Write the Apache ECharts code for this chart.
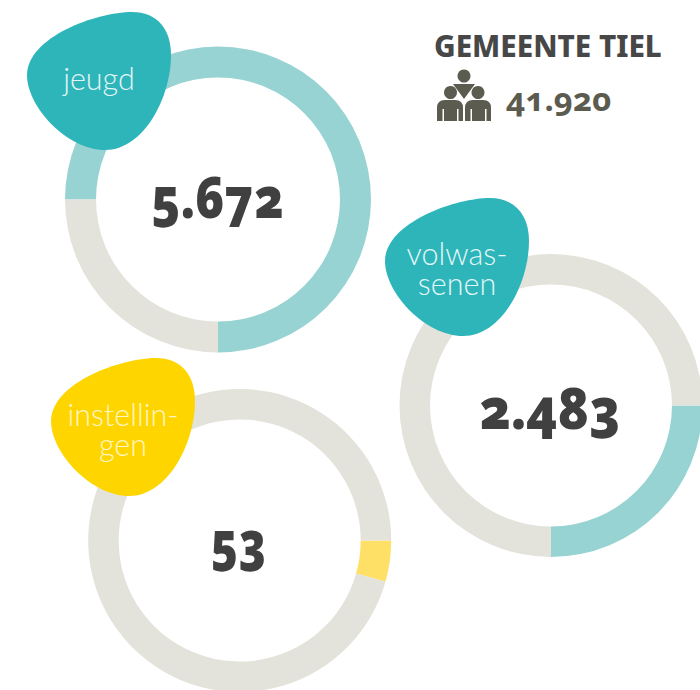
<!DOCTYPE html>
<html>
<head>
<meta charset="utf-8">
<title>Gemeente Tiel</title>
<style>
  html, body { margin: 0; background: #fff; }
  #chart { width: 700px; height: 690px; }
  /* the inline font shorthand resets numerals, hence !important */
  #chart text { font-variant-numeric: oldstyle-nums !important; font-feature-settings: "onum" !important; }
</style>
<script src="https://cdn.jsdelivr.net/npm/echarts@6/dist/echarts.min.js"></script>
</head>
<body>
<div id="chart"></div>
<script>
const heading = 'GEMEENTE TIEL';
const population = '41.920';
const categories = ['jeugd', 'volwassenen', 'instellingen'];
const blobLabels = ['jeugd', 'volwas-\nsenen', 'instellin-\ngen'];
const counts = ['5.672', '2.483', '53'];
// ring shares in percent
const shares = [75, 25, 4.4];
const restShares = [25, 75, 95.6];

const RING_COLORS = ['#97d3d2', '#97d3d2', '#ffe066'];
const BLOB_COLORS = ['#2db5ba', '#2db5ba', '#ffd500'];
const REST_COLOR = '#e3e3db';
const CENTERS = [[218, 199.5], [551, 405.5], [239.7, 540.5]];
const RADII = [[122, 153], [121, 151.5], [121, 151.5]];
const START_ANGLES = [270, 0, 0];
const CLOCKWISE = [false, true, true];
const BLOB_POS = [[27, 12], [385, 198], [51, 358]];
const COUNT_POS = [[217.5, 196], [550, 407.5], [238.5, 540]];
const COUNT_SCALE_X = [0.94, 1, 0.88];
const BLOB_TEXT_POS = [[99, 78], [457, 268], [123, 429]];
const ICON = '#5b5b4f';

// graphic component has no 'path' type, so the shapes get registered
echarts.graphic.registerShape('blob', echarts.graphic.extendPath(
  'M105 0C130 0 144 17 144 43C144 85 117 138 78 138C40 138 0 95 0 63C0 25 70 0 105 0Z'));
echarts.graphic.registerShape('torso', echarts.graphic.extendPath('M453 84H475L464 99Z'));
echarts.graphic.registerShape('person', echarts.graphic.extendPath(
  'M0 21V8Q0 0 8 0H18Q26 0 26 8V21H21.5V9H20V21H7V9H5.5V21Z'));

const series = categories.map((name, i) => ({
  type: 'pie',
  name: name,
  center: CENTERS[i],
  radius: RADII[i],
  startAngle: START_ANGLES[i],
  clockwise: CLOCKWISE[i],
  silent: true,
  label: { show: false },
  labelLine: { show: false },
  animation: false,
  data: [
    { value: shares[i], name: name, itemStyle: { color: RING_COLORS[i] } },
    { value: restShares[i], name: 'overig', itemStyle: { color: REST_COLOR } }
  ]
}));

const blobs = categories.map((name, i) => ({
  type: 'blob',
  x: BLOB_POS[i][0],
  y: BLOB_POS[i][1],
  z: 10,
  style: { fill: BLOB_COLORS[i] }
}));

const blobTexts = blobLabels.map((text, i) => ({
  type: 'text',
  x: BLOB_TEXT_POS[i][0],
  y: BLOB_TEXT_POS[i][1],
  z: 11,
  style: {
    text: text,
    fill: i === 2 ? '#fff6c4' : '#e4f6f6',
    font: '300 30.5px Lato',
    lineHeight: 30,
    align: 'center',
    verticalAlign: 'middle'
  }
}));

const countTexts = counts.map((text, i) => ({
  type: 'text',
  x: COUNT_POS[i][0],
  y: COUNT_POS[i][1],
  scaleX: COUNT_SCALE_X[i],
  scaleY: 1.08,
  z: 11,
  style: {
    text: text,
    fill: '#404040',
    font: '900 52px "Noto Sans"',
    align: 'center',
    verticalAlign: 'middle'
  }
}));

const icon = [
  { type: 'circle', shape: { cx: 464, cy: 76, r: 6.5 }, style: { fill: ICON } },
  { type: 'circle', shape: { cx: 450.5, cy: 92.5, r: 6.5 }, style: { fill: ICON } },
  { type: 'circle', shape: { cx: 478, cy: 92.5, r: 6.5 }, style: { fill: ICON } },
  { type: 'torso', style: { fill: ICON } },
  { type: 'person', x: 437, y: 100, style: { fill: ICON } },
  { type: 'person', x: 465, y: 100, style: { fill: ICON } }
];

const chart = echarts.init(document.getElementById('chart'), null, { renderer: 'svg' });
chart.setOption({
  animation: false,
  backgroundColor: '#fff',
  series: series,
  graphic: {
    elements: [
      ...blobs,
      ...blobTexts,
      ...countTexts,
      {
        type: 'text',
        x: 434,
        y: 45,
        style: { text: heading, fill: '#474747', font: '800 29.6px "Noto Sans"', align: 'left', verticalAlign: 'middle' }
      },
      {
        type: 'text',
        x: 506,
        y: 98,
        style: { text: population, fill: ICON, font: '700 33px "Noto Sans"', align: 'left', verticalAlign: 'middle' }
      },
      ...icon
    ]
  }
});
</script>
</body>
</html>
